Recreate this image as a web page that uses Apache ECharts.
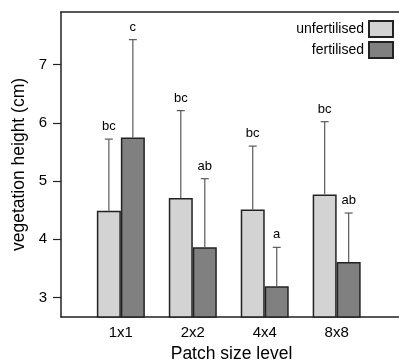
<!DOCTYPE html>
<html>
<head>
<meta charset="utf-8">
<script src="https://cdn.jsdelivr.net/npm/echarts@6/dist/echarts.min.js"></script>
<style>
html,body{margin:0;padding:0;background:#fff;}
#chart{width:399px;height:362px;}
</style>
</head>
<body>
<div id="chart"></div>
<script>
const categories = ['1x1', '2x2', '4x4', '8x8'];
const unfertMean = [4.49, 4.71, 4.51, 4.77];
const unfertUpper = [5.72, 6.21, 5.60, 6.02];
const unfertLetters = ['bc', 'bc', 'bc', 'bc'];
const fertMean = [5.75, 3.86, 3.19, 3.61];
const fertUpper = [7.43, 5.04, 3.86, 4.45];
const fertLetters = ['c', 'ab', 'a', 'ab'];
const yTicks = [3, 4, 5, 6, 7];
const catPositions = categories.map((c, i) => i + 1);

const FONT = 'Liberation Sans, Arial, sans-serif';
const chart = echarts.init(document.getElementById('chart'), null, {renderer: 'canvas'});

function errSeries(name, means, uppers, letters, offset) {
  return {
    type: 'custom',
    name: name + ' err',
    z: 5,
    clip: false,
    data: means.map((m, i) => [catPositions[i], m, uppers[i], letters[i]]),
    renderItem: function (params, api) {
      const base = api.coord([api.value(0), api.value(1)]);
      const top = api.coord([api.value(0), api.value(2)]);
      const x = base[0] + offset;
      const idx = params.dataIndex;
      return {
        type: 'group',
        children: [
          {type: 'line', shape: {x1: x, y1: base[1], x2: x, y2: top[1]}, style: {stroke: '#5a5a5a', lineWidth: 1.2}},
          {type: 'line', shape: {x1: x - 4, y1: top[1], x2: x + 4, y2: top[1]}, style: {stroke: '#5a5a5a', lineWidth: 1.2}},
          {type: 'text', x: x, y: top[1] - 6, style: {text: letters[idx], fill: '#000', font: '13px ' + FONT, align: 'center', verticalAlign: 'bottom'}}
        ]
      };
    }
  };
}

const option = {
  animation: false,
  backgroundColor: '#fff',
  textStyle: {fontFamily: FONT},
  grid: {left: 61, right: -3, top: 12, bottom: 45, containLabel: false, outerBoundsMode: 'none'},
  legend: {
    orient: 'vertical',
    right: 5,
    top: 20,
    align: 'right',
    itemWidth: 24,
    itemHeight: 16,
    itemGap: 3,
    icon: 'rect',
    padding: 0,
    textStyle: {fontSize: 14, color: '#000', fontFamily: FONT},
    data: ['unfertilised', 'fertilised']
  },
  xAxis: [{
    type: 'value',
    position: 'bottom',
    min: 0.168,
    max: 4.908,
    axisLine: {show: true, lineStyle: {color: '#222', width: 1.5}},
    axisTick: {show: false},
    splitLine: {show: false},
    axisLabel: {
      customValues: catPositions,
      formatter: v => categories[Math.round(v) - 1],
      fontSize: 15, color: '#000', margin: 8, fontFamily: FONT
    },
    name: 'Patch size level',
    nameLocation: 'middle',
    nameGap: 27,
    nameTextStyle: {fontSize: 17.5, color: '#000', fontFamily: FONT}
  }, {
    type: 'value',
    position: 'top',
    min: 0.168,
    max: 4.908,
    axisLine: {show: true, lineStyle: {color: '#222', width: 1.5}},
    axisTick: {show: false},
    axisLabel: {show: false},
    splitLine: {show: false}
  }],
  yAxis: {
    type: 'value',
    min: 2.663,
    max: 7.905,
    axisLine: {show: true, lineStyle: {color: '#222', width: 1.5}},
    axisTick: {show: true, customValues: yTicks, length: 8, lineStyle: {color: '#222', width: 1.2}},
    axisLabel: {customValues: yTicks, fontSize: 15, color: '#000', margin: 14, fontFamily: FONT},
    splitLine: {show: false},
    name: 'vegetation height (cm)',
    nameLocation: 'middle',
    nameGap: 33,
    nameTextStyle: {fontSize: 17.5, color: '#000', fontFamily: FONT}
  },
  series: [
    {
      type: 'bar', name: 'unfertilised', barWidth: 24, barGap: '0%',
      itemStyle: {color: '#d3d3d3', borderColor: '#222', borderWidth: 1.5},
      data: unfertMean.map((v, i) => [catPositions[i], v])
    },
    {
      type: 'bar', name: 'fertilised', barWidth: 24, barGap: '0%',
      itemStyle: {color: '#808080', borderColor: '#222', borderWidth: 1.5},
      data: fertMean.map((v, i) => [catPositions[i], v])
    },
    errSeries('unfertilised', unfertMean, unfertUpper, unfertLetters, -12),
    errSeries('fertilised', fertMean, fertUpper, fertLetters, 12)
  ]
};
chart.setOption(option);
</script>
</body>
</html>
